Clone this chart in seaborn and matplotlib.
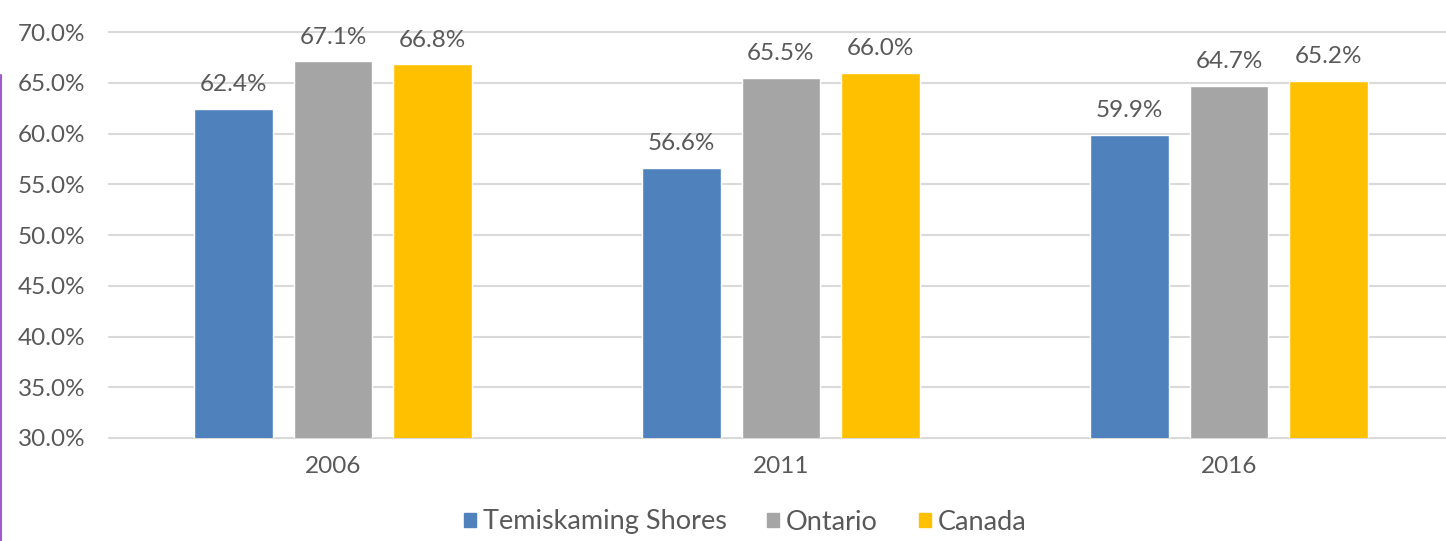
import numpy as np
import pandas as pd
import matplotlib
matplotlib.use("Agg")
import matplotlib.pyplot as plt
import seaborn as sns
from matplotlib.lines import Line2D

years = ["2006", "2011", "2016"]
regions = ["Temiskaming Shores", "Ontario", "Canada"]
temiskaming = [62.4, 56.6, 59.9]
ontario = [67.1, 65.5, 64.7]
canada = [66.8, 66.0, 65.2]
colors = ["#4F81BD", "#A5A5A5", "#FFC000"]
text_col = "#595959"
fs = 17.5

df = pd.DataFrame({
    "year": years * 3,
    "region": [r for r in regions for _ in years],
    "value": temiskaming + ontario + canada,
})

sns.set_theme(style="white")
plt.rcParams["font.family"] = ["Lato", "DejaVu Sans"]

fig = plt.figure(figsize=(14.46, 5.41), dpi=100)
ax = fig.add_axes([109 / 1446, 103 / 541, 1344 / 1446, 406 / 541])

sns.barplot(data=df, x="year", y="value", hue="region", palette=colors,
            saturation=1, width=0.666, gap=0.21, ax=ax, legend=False)

ax.set_ylim(30, 70)
ax.set_xlim(-0.5, 2.5)
ticks = np.arange(30, 70.1, 5)
ax.set_yticks(ticks)
ax.set_yticklabels([f"{t:.1f}%" for t in ticks], fontsize=fs, color=text_col)
ax.tick_params(axis="x", labelsize=fs, labelcolor=text_col, pad=13, length=0)
ax.tick_params(axis="y", length=0, pad=17)
ax.set_xlabel("")
ax.set_ylabel("")
ax.grid(axis="y", color="#D9D9D9", lw=1.5)
for gl in ax.get_ygridlines():
    gl.set_clip_on(False)
ax.set_axisbelow(True)
for s in ax.spines.values():
    s.set_visible(False)

for cont in ax.containers:
    ax.bar_label(cont, labels=[f"{v:.1f}%" for v in cont.datavalues],
                 padding=10, fontsize=fs, color=text_col)

handles = [plt.Rectangle((0, 0), 1, 1, color=c) for c in colors]
fig.legend(handles, regions, loc="center", bbox_to_anchor=(745 / 1446, 1 - 522 / 541),
           ncol=3, frameon=False, fontsize=19.5, labelcolor=text_col,
           handlelength=0.45, handleheight=0.45, handletextpad=0.25, columnspacing=1.5)

# thin purple mark on the left edge
fig.add_artist(Line2D([0.001, 0.001], [0, 1 - 75 / 541], transform=fig.transFigure,
                      color="#A05AD0", lw=1.5))

fig.savefig("out.png", dpi=100)
